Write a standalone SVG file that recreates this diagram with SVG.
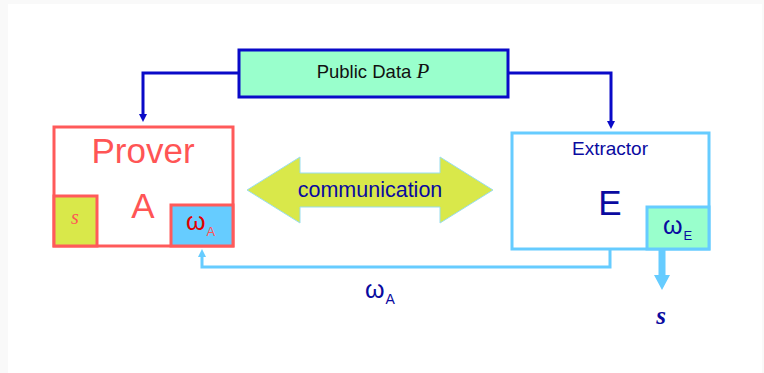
<svg xmlns="http://www.w3.org/2000/svg" width="764" height="373" viewBox="0 0 764 373">
<style>
.sans{font-family:"Liberation Sans",Arial,sans-serif}
.serif{font-family:"Liberation Serif","Times New Roman",serif;font-style:italic}
.navy{fill:#0a0aa0}
.red{fill:#ff5555}
.pbox{stroke:#ff5a5a;stroke-width:3}
.ebox{stroke:#66ccff;stroke-width:3}
.dark{fill:none;stroke:#0a0ac8;stroke-width:3}
.light{fill:none;stroke:#66ccff;stroke-width:3}
</style>
<defs>
<marker id="ah" markerWidth="8" markerHeight="8" refX="4" refY="4" orient="auto" markerUnits="userSpaceOnUse" viewBox="0 0 8 8">
<path d="M0,0 L8,4 L0,8 Z" fill="#0a0ac8"/>
</marker>
<marker id="ahl" markerWidth="8" markerHeight="8" refX="4" refY="4" orient="auto" markerUnits="userSpaceOnUse" viewBox="0 0 8 8">
<path d="M0,0 L8,4 L0,8 Z" fill="#66ccff"/>
</marker>
</defs>
<rect x="0" y="0" width="764" height="373" fill="#f9f9f9"/>
<rect x="8" y="4" width="754" height="369" fill="#ffffff"/>

<g id="connectors">
<path class="dark" d="M239,73 H143 V118" marker-end="url(#ah)"/>
<path class="dark" d="M508,73 H611 V125" marker-end="url(#ah)"/>
<path class="light" d="M610,250 V267 H202 V253" marker-end="url(#ahl)"/>
<path d="M658.5,250 H665.5 V275 H670 L662,290 L654,275 H658.5 Z" fill="#66ccff"/>
<text x="365" y="298" class="sans navy" font-size="25">ω<tspan font-size="14" dx="1" dy="6">A</tspan></text>
<text x="661" y="324" class="serif navy" font-size="25" font-weight="bold" text-anchor="middle">s</text>
</g>

<g id="public-data">
<rect x="239" y="50" width="269" height="47" fill="#99ffcc" stroke="#0a0ac8" stroke-width="3"/>
<text x="373" y="78" class="sans" font-size="18.5" fill="#111" text-anchor="middle">Public Data <tspan class="serif" font-size="21">P</tspan></text>
</g>

<g id="prover">
<rect x="54" y="127" width="179" height="119" fill="#ffffff" class="pbox"/>
<text x="143" y="163" class="sans red" font-size="35" text-anchor="middle">Prover</text>
<text x="143" y="218" class="sans red" font-size="35" text-anchor="middle">A</text>
</g>

<g id="secret-s">
<rect x="54" y="196" width="43" height="50" fill="#d9e84a" class="pbox"/>
<text x="75" y="224" class="serif red" font-size="20" text-anchor="middle">s</text>
</g>

<g id="witness-a">
<rect x="171" y="205" width="62" height="41" fill="#66ccff" class="pbox"/>
<text x="186" y="230" class="sans" fill="#e00000" font-size="25">ω<tspan font-size="13" dx="1" dy="6" fill="#ff5555">A</tspan></text>
</g>

<g id="communication">
<path d="M247,190 L300,157 V173 H440 V157 L493,190 L440,223 V207 H300 V223 Z" fill="#d9e84a" stroke="#99ddee" stroke-width="1"/>
<text x="370" y="197" class="sans navy" font-size="21.5" text-anchor="middle">communication</text>
</g>

<g id="extractor">
<rect x="512" y="133" width="197" height="116" fill="#ffffff" class="ebox"/>
<text x="610" y="155" class="sans navy" font-size="19" text-anchor="middle">Extractor</text>
<text x="610" y="215" class="sans navy" font-size="35" text-anchor="middle">E</text>
</g>

<g id="witness-e">
<rect x="647" y="207" width="62" height="42" fill="#99ffcc" class="ebox"/>
<text x="663" y="234" class="sans navy" font-size="25">ω<tspan font-size="13" dx="1" dy="6">E</tspan></text>
</g>
</svg>
